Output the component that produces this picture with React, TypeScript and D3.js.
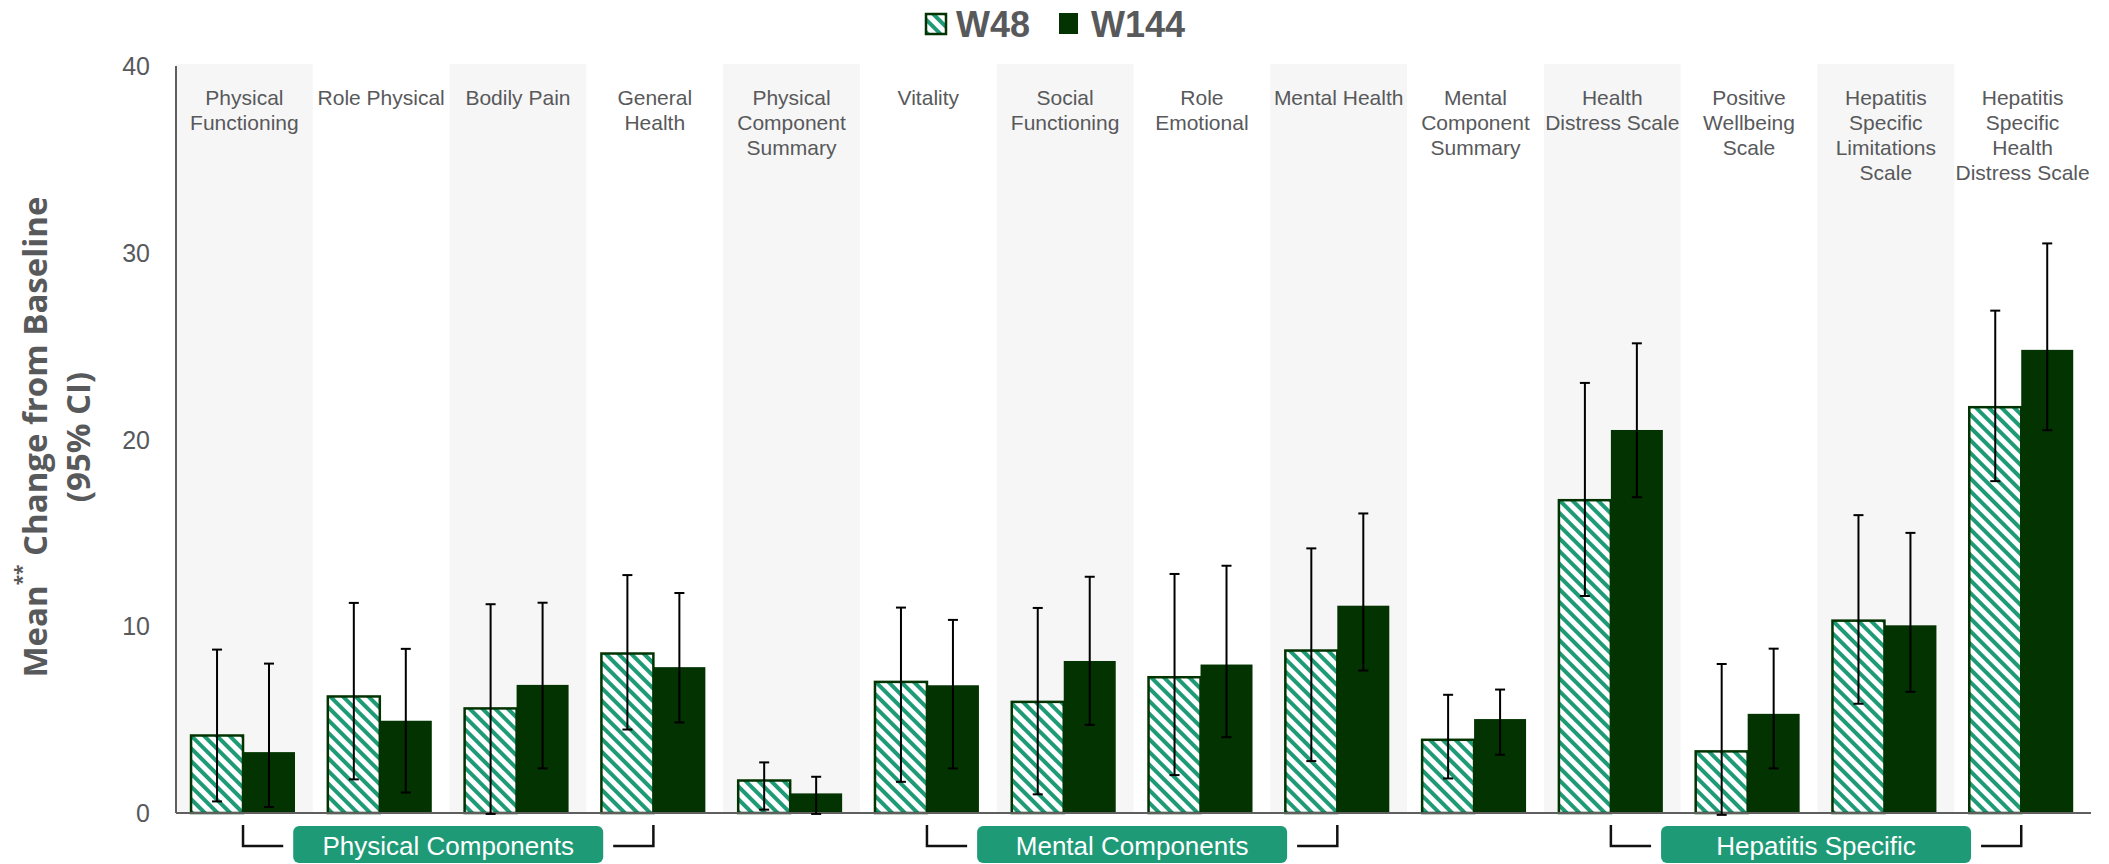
import React from "react";
import * as d3 from "d3";

// Quality-of-life domains, with label line breaks
const categories = [
  "Physical Functioning",
  "Role Physical",
  "Bodily Pain",
  "General Health",
  "Physical Component Summary",
  "Vitality",
  "Social Functioning",
  "Role Emotional",
  "Mental Health",
  "Mental Component Summary",
  "Health Distress Scale",
  "Positive Wellbeing Scale",
  "Hepatitis Specific Limitations Scale",
  "Hepatitis Specific Health Distress Scale",
];
const categoryLines = [
  ["Physical", "Functioning"],
  ["Role Physical"],
  ["Bodily Pain"],
  ["General", "Health"],
  ["Physical", "Component", "Summary"],
  ["Vitality"],
  ["Social", "Functioning"],
  ["Role", "Emotional"],
  ["Mental Health"],
  ["Mental", "Component", "Summary"],
  ["Health", "Distress Scale"],
  ["Positive", "Wellbeing", "Scale"],
  ["Hepatitis", "Specific", "Limitations", "Scale"],
  ["Hepatitis", "Specific", "Health", "Distress Scale"],
];

const seriesNames = ["W48", "W144"];

// Mean change from baseline and 95% CI, week 48
const w48Mean = [4.15, 6.24, 5.6, 8.54, 1.74, 7.02, 5.95, 7.27, 8.7, 3.92, 16.75, 3.3, 10.3, 21.73];
const w48Low = [0.62, 1.8, -0.05, 4.47, 0.18, 1.67, 1.0, 2.03, 2.78, 1.85, 11.62, -0.1, 5.85, 17.77];
const w48High = [8.75, 11.25, 11.18, 12.74, 2.71, 11.0, 10.98, 12.8, 14.17, 6.33, 23.03, 7.98, 15.95, 26.9];

// Mean change from baseline and 95% CI, week 144
const w144Mean = [3.26, 4.94, 6.86, 7.81, 1.05, 6.84, 8.14, 7.95, 11.1, 5.03, 20.51, 5.31, 10.05, 24.8];
const w144Low = [0.32, 1.1, 2.39, 4.85, -0.05, 2.39, 4.72, 4.06, 7.63, 3.12, 16.91, 2.39, 6.49, 20.5];
const w144High = [8.0, 8.79, 11.26, 11.78, 1.94, 10.34, 12.65, 13.24, 16.04, 6.61, 25.15, 8.8, 15.0, 30.5];

const yTicks = [0, 10, 20, 30, 40];

// Domain groupings shown under the axis (first and last category index)
const groupLabels = ["Physical Components", "Mental Components", "Hepatitis Specific"];
const groupFrom = [0, 5, 10];
const groupTo = [3, 8, 13];

const W = 2109;
const H = 864;
const DARK = "#023301";
const TEAL = "#1f9a77";
const GREY_TEXT = "#58595b";
const AXIS = "#5f5f5f";
const LABEL_FONT = "'Liberation Sans', Arial, sans-serif";

export default function App() {
  const x = d3.scaleBand<string>().domain(categories).range([176, 2091]).paddingInner(0).paddingOuter(0);
  const bw = x.bandwidth();
  const xs = d3.scaleBand<string>().domain(seriesNames).range([bw * 0.11, bw * 0.87]).padding(0);
  const y = d3.scaleLinear().domain([0, 40]).range([813, 66]);
  const barW = xs.bandwidth();

  const series = [
    { name: "W48", mean: w48Mean, low: w48Low, high: w48High, fill: "url(#stripes)", stroke: DARK },
    { name: "W144", mean: w144Mean, low: w144Low, high: w144High, fill: DARK, stroke: "none" },
  ];

  const pairCenter = (i: number) => (x(categories[i]) as number) + bw * 0.11 + barW;

  return (
    <svg
      width={W}
      height={H}
      viewBox={`0 0 ${W} ${H}`}
      style={{ position: "absolute", left: 0, top: 0, display: "block", background: "#fff" }}
    >
      <defs>
        <pattern id="stripes" patternUnits="userSpaceOnUse" width={9} height={9} patternTransform="rotate(-45)">
          <rect width={9} height={9} fill="#ffffff" />
          <rect width={4} height={9} fill={TEAL} />
        </pattern>
      </defs>

      {/* alternating shaded category bands */}
      {categories.map((c, i) =>
        i % 2 === 0 ? (
          <rect key={"band" + i} x={x(c)} y={64} width={bw} height={y(0) - 64} fill="#f6f6f6" />
        ) : null
      )}

      {/* bars */}
      {series.map((s) =>
        categories.map((c, i) => {
          const bx = (x(c) as number) + (xs(s.name) as number);
          const top = y(Math.max(0, s.mean[i]));
          return (
            <rect
              key={s.name + i}
              x={bx}
              y={top}
              width={barW}
              height={y(0) - top}
              fill={s.fill}
              stroke={s.stroke}
              strokeWidth={s.stroke === "none" ? 0 : 2.5}
            />
          );
        })
      )}

      {/* axes */}
      <line x1={176} x2={176} y1={y(40)} y2={y(0)} stroke={AXIS} strokeWidth={2} />
      <line x1={176} x2={2091} y1={y(0)} y2={y(0)} stroke={AXIS} strokeWidth={2} />

      {/* 95% CI error bars */}
      {series.map((s) =>
        categories.map((c, i) => {
          const cx = (x(c) as number) + (xs(s.name) as number) + barW / 2;
          return (
            <g key={"err" + s.name + i} stroke="#000" strokeWidth={2}>
              <line x1={cx} x2={cx} y1={y(s.low[i])} y2={y(s.high[i])} />
              <line x1={cx - 5} x2={cx + 5} y1={y(s.low[i])} y2={y(s.low[i])} />
              <line x1={cx - 5} x2={cx + 5} y1={y(s.high[i])} y2={y(s.high[i])} />
            </g>
          );
        })
      )}

      {/* y tick labels */}
      {yTicks.map((t) => (
        <text
          key={"t" + t}
          x={150}
          y={y(t)}
          textAnchor="end"
          dominantBaseline="central"
          fontFamily={LABEL_FONT}
          fontSize={25}
          fill={GREY_TEXT}
        >
          {t}
        </text>
      ))}

      {/* y axis title */}
      <g transform="translate(34,437) rotate(-90)" fontFamily="'Open Sans', sans-serif" fontWeight="bold" fill={GREY_TEXT}>
        <text x={0} y={0} textAnchor="middle" dominantBaseline="central" fontSize={33}>
          Mean
          <tspan fontSize={19} dy={-12}>**</tspan>
          <tspan dy={12}> Change from Baseline</tspan>
        </text>
        <text x={0} y={43} textAnchor="middle" dominantBaseline="central" fontSize={33}>
          (95% CI)
        </text>
      </g>

      {/* category labels */}
      {categories.map((c, i) => (
        <text
          key={"lab" + i}
          x={(x(c) as number) + bw / 2}
          textAnchor="middle"
          fontFamily={LABEL_FONT}
          fontSize={21}
          fill={GREY_TEXT}
        >
          {categoryLines[i].map((ln, k) => (
            <tspan key={k} x={(x(c) as number) + bw / 2} y={97 + k * 25.3} dominantBaseline="central">
              {ln}
            </tspan>
          ))}
        </text>
      ))}

      {/* legend */}
      <g fontFamily={LABEL_FONT} fontWeight="bold" fontSize={36} fill={GREY_TEXT}>
        <rect x={926} y={14} width={20} height={20} fill="url(#stripes)" stroke={DARK} strokeWidth={2.5} />
        <text x={956} y={24} dominantBaseline="central">W48</text>
        <rect x={1059} y={13} width={19} height={21} fill={DARK} />
        <text x={1091} y={24} dominantBaseline="central">W144</text>
      </g>

      {/* domain group labels with brackets */}
      {groupLabels.map((g, k) => {
        const a = pairCenter(groupFrom[k]);
        const b = pairCenter(groupTo[k]);
        const mid = (a + b) / 2;
        const boxW = 310;
        const bl = mid - boxW / 2;
        const br = mid + boxW / 2;
        return (
          <g key={"grp" + k}>
            <path
              d={`M${a},825 V846 H${bl - 10} M${br + 10},846 H${b} V825`}
              fill="none"
              stroke="#111"
              strokeWidth={2.5}
            />
            <rect x={bl} y={826} width={boxW} height={37} rx={6} fill={TEAL} />
            <text
              x={mid}
              y={846}
              textAnchor="middle"
              dominantBaseline="central"
              fontFamily={LABEL_FONT}
              fontSize={26}
              fill="#fff"
            >
              {g}
            </text>
          </g>
        );
      })}
    </svg>
  );
}
